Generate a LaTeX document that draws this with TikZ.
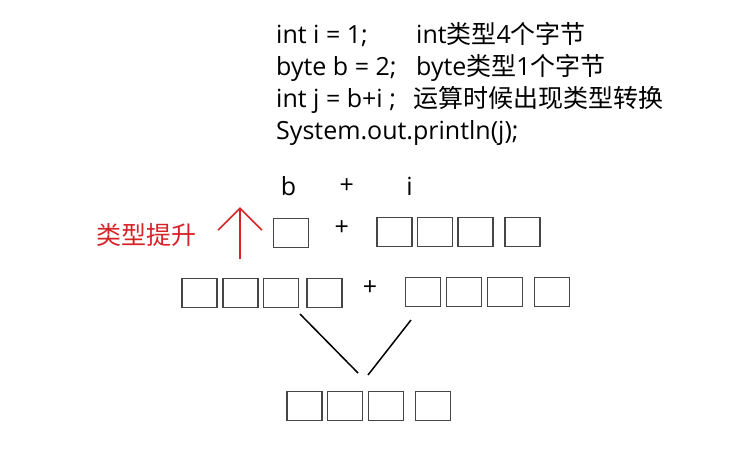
\documentclass[tikz,border=0pt]{standalone}
\usepackage{fontspec}
\setmainfont{Open Sans}
\newfontfamily\cjk{Noto Sans CJK SC}
\usetikzlibrary{arrows.meta}
\definecolor{box_gray}{RGB}{70,70,70}
\definecolor{promo_red}{RGB}{215,35,40}
\tikzset{
  cell/.style={draw=box_gray,line width=1.3pt,minimum width=35pt,minimum height=29pt,inner sep=0pt},
  code/.style={anchor=base west,inner sep=0pt},
}

\begin{document}
\begin{tikzpicture}[>={Straight Barb[length=22pt,width=44pt]},font=\fontsize{25}{32}\selectfont]
        \begin{scope}[x=1pt,y=-1pt]
            \useasboundingbox (0,0) rectangle (736,451);

            % the code lines
            \draw[] (276,43) node[code] (code_int_i) {int i = 1;};
            \draw[] (416,43) node[code] (note_int) {int{\cjk 类型}4{\cjk 个字节}};
            \draw[] (276,75) node[code] (code_byte_b) {byte b = 2;};
            \draw[] (416,75) node[code] (note_byte) {byte{\cjk 类型}1{\cjk 个字节}};
            \draw[] (276,107) node[code] (code_int_j) {int j = b+i ;};
            \draw[] (413,107) node[code] (note_cast) {\cjk 运算时候出现类型转换};
            \draw[] (276,139) node[code] (code_print) {System.out.println(j);};

            \draw[] (288.5,195) node[anchor=base] (label_b) {b};
            \draw[] (346.7,186) node (label_plus) {+};
            \draw[] (409.5,195) node[anchor=base] (label_i) {i};

            % b and i
            \draw[] (290.7,233) node[cell] (b_byte) {};
            \draw[] (341.7,228) node (plus_top) {+};
            \draw[] (394.5,232.2) node[cell] (i_byte1) {};
            \draw[] (435,232.2) node[cell] (i_byte2) {};
            \draw[] (475.5,232.2) node[cell] (i_byte3) {};
            \draw[] (522.5,232.2) node[cell] (i_byte4) {};

            \draw[] (146.5,235) node[text=promo_red] (title_promo) {\cjk 类型提升};
            \coordinate (promo_tail) at (240,259);
            \coordinate (promo_head) at (240,207);
            \draw[->,promo_red,line width=1.6pt] (promo_tail) -- (promo_head);

            % after the promotion
            \draw[] (199.5,293.3) node[cell] (b_int1) {};
            \draw[] (240.5,293.3) node[cell] (b_int2) {};
            \draw[] (281.2,293.3) node[cell] (b_int3) {};
            \draw[] (324.5,293.3) node[cell] (b_int4) {};
            \draw[] (370,288) node (plus_bottom) {+};
            \draw[] (423.3,292) node[cell] (i_int1) {};
            \draw[] (464.2,292) node[cell] (i_int2) {};
            \draw[] (505,292) node[cell] (i_int3) {};
            \draw[] (551.7,292) node[cell] (i_int4) {};

            \coordinate (left_top) at (300,314);
            \coordinate (left_bot) at (358,373);
            \coordinate (right_top) at (411,320);
            \coordinate (right_bot) at (368,375);
            \draw[line width=1.5pt] (left_top) -- (left_bot);
            \draw[line width=1.5pt] (right_top) -- (right_bot);

            % j
            \draw[] (304.5,405.8) node[cell] (j_int1) {};
            \draw[] (345.2,405.8) node[cell] (j_int2) {};
            \draw[] (386.2,405.8) node[cell] (j_int3) {};
            \draw[] (432.8,405.8) node[cell] (j_int4) {};
        \end{scope}
    \end{tikzpicture}
\end{document}
